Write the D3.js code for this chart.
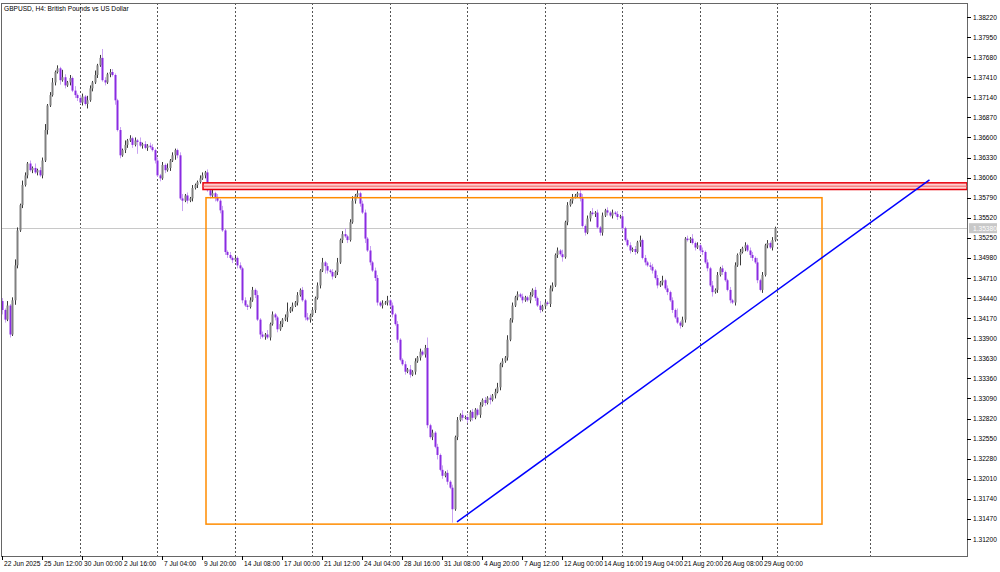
<!DOCTYPE html>
<html>
<head>
<meta charset="utf-8">
<script src="https://cdn.jsdelivr.net/npm/d3@7"></script>
<style>
  body { margin: 0; background: #fff; }
  svg text { font-family: "Liberation Sans", Arial, sans-serif; font-size: 6.6px; fill: #000; }
</style>
</head>
<body>
<svg id="chart" width="1000" height="572"></svg>
<script>
// GBPUSD H4 closes
const closes = [
  1.3428,1.3415,1.3434,1.3395,1.3441,1.3488,1.3535,1.3569,1.3596,1.3609,
  1.3625,1.3616,1.3619,1.3613,1.3616,1.3609,1.3629,1.3670,1.3703,1.3717,
  1.3734,1.3748,1.3753,1.3737,1.3741,1.3730,1.3734,1.3740,1.3723,1.3717,
  1.3713,1.3707,1.3715,1.3705,1.3710,1.3726,1.3734,1.3744,1.3757,1.3767,
  1.3737,1.3734,1.3745,1.3748,1.3744,1.3710,1.3670,1.3636,1.3643,1.3650,
  1.3656,1.3659,1.3650,1.3656,1.3654,1.3649,1.3651,1.3646,1.3649,1.3647,
  1.3643,1.3629,1.3609,1.3605,1.3623,1.3616,1.3619,1.3629,1.3636,1.3643,
  1.3636,1.3578,1.3575,1.3582,1.3575,1.3578,1.3592,1.3596,1.3600,1.3605,
  1.3609,1.3613,1.3589,1.3582,1.3585,1.3580,1.3575,1.3562,1.3535,1.3506,
  1.3502,1.3498,1.3495,1.3498,1.3488,1.3484,1.3441,1.3434,1.3432,1.3441,
  1.3455,1.3448,1.3415,1.3395,1.3392,1.3395,1.3391,1.3409,1.3422,1.3418,
  1.3402,1.3409,1.3415,1.3418,1.3426,1.3430,1.3434,1.3438,1.3448,1.3455,
  1.3441,1.3418,1.3415,1.3421,1.3428,1.3444,1.3461,1.3481,1.3492,1.3487,
  1.3481,1.3479,1.3473,1.3479,1.3492,1.3522,1.3530,1.3527,1.3522,1.3546,
  1.3575,1.3582,1.3585,1.3571,1.3559,1.3524,1.3508,1.3492,1.3481,1.3471,
  1.3438,1.3434,1.3437,1.3438,1.3441,1.3434,1.3422,1.3409,1.3388,1.3361,
  1.3355,1.3345,1.3348,1.3341,1.3345,1.3359,1.3364,1.3372,1.3368,1.3377,
  1.3273,1.3257,1.3263,1.3244,1.3233,1.3213,1.3205,1.3209,1.3197,1.3189,
  1.3160,1.3257,1.3280,1.3287,1.3283,1.3284,1.3280,1.3291,1.3283,1.3294,
  1.3287,1.3300,1.3307,1.3303,1.3310,1.3307,1.3313,1.3318,1.3324,1.3355,
  1.3359,1.3364,1.3388,1.3415,1.3434,1.3445,1.3449,1.3446,1.3441,1.3445,
  1.3441,1.3448,1.3455,1.3444,1.3434,1.3428,1.3433,1.3438,1.3436,1.3457,
  1.3461,1.3502,1.3508,1.3503,1.3499,1.3546,1.3569,1.3575,1.3580,1.3582,
  1.3585,1.3578,1.3541,1.3532,1.3551,1.3559,1.3557,1.3559,1.3539,1.3532,
  1.3555,1.3562,1.3559,1.3555,1.3559,1.3557,1.3553,1.3554,1.3538,1.3522,
  1.3515,1.3508,1.3510,1.3506,1.3519,1.3522,1.3498,1.3492,1.3488,1.3486,
  1.3481,1.3471,1.3461,1.3465,1.3468,1.3457,1.3452,1.3441,1.3428,1.3418,
  1.3411,1.3407,1.3415,1.3524,1.3522,1.3524,1.3518,1.3512,1.3515,1.3508,
  1.3506,1.3492,1.3484,1.3461,1.3452,1.3455,1.3475,1.3484,1.3479,1.3468,
  1.3455,1.3441,1.3438,1.3488,1.3502,1.3506,1.3511,1.3515,1.3508,1.3502,
  1.3498,1.3492,1.3468,1.3455,1.3475,1.3515,1.3518,1.3512,1.3522,1.3538
];
const firstOpen = 1.3440;
// wick lengths per candle, in units of 0.0002
const upperWicks = ("2131242132121312241231215212131221321312621221121312121312122121213121123121211221213121311212121212" +
  "2131213121121261212121312121312121312412312122131221213121211213121212712121312121213121211212121231" +
  "2131212121121213121221213121211231213121212121213112121312122121312121612121312121213121211212121212" +
  "2131212121").split('').map(Number);
const lowerWicks = ("3212132121212121213112131212122121312121121213121221218121211212121213217121212112121312122121212121" +
  "1213121212212131212112121212152121212121121213121221212121211212121212212131212191212121211212131212" +
  "2121212121121212121221213121211212121212212121212112121312122121212121121212121221213121211212171212" +
  "2121212121").split('').map(Number);

const xLabels = ['22 Jun 2025','25 Jun 12:00','30 Jun 00:00','2 Jul 16:00','7 Jul 04:00','9 Jul 20:00',
  '14 Jul 08:00','17 Jul 00:00','21 Jul 12:00','24 Jul 04:00','28 Jul 16:00','31 Jul 08:00',
  '4 Aug 20:00','7 Aug 12:00','12 Aug 00:00','14 Aug 16:00','19 Aug 04:00','21 Aug 20:00',
  '26 Aug 08:00','29 Aug 00:00'];
const labelEvery = 16;
const weekStarts = [31, 62, 93, 124, 155, 186, 217, 248, 279, 310, 347];
const yTicks = d3.range(27).map(k => +(1.3822 - k * 0.0027).toFixed(4));

// drawn objects: [index, price]
const resistance = [80.4, 1.3599, 1.3590];
const rangeBox = [81.6, 328, 1.3579, 1.3140];
const trendLine = [[182, 1.3143], [371, 1.3603]];
const lastPrice = 1.3538;

const svg = d3.select('#chart');
const plotL = 1, plotR = 967, plotT = 3, plotB = 556;

const x = d3.scaleLinear().domain([0, 1]).range([2, 4.5]);
const y = d3.scaleLinear().domain([1.3120, 1.3822]).range([539, 17]);

const candles = closes.map((c, i) => {
  const o = i === 0 ? firstOpen : closes[i - 1];
  return {
    i, o, c,
    h: Math.max(o, c) + (upperWicks[i] || 1) * 0.0002,
    l: Math.min(o, c) - (lowerWicks[i] || 1) * 0.0002
  };
});

// week separators
svg.append('g').selectAll('line').data(weekStarts).enter().append('line')
  .attr('x1', d => Math.round(x(d)) + 0.5).attr('x2', d => Math.round(x(d)) + 0.5)
  .attr('y1', plotT).attr('y2', plotB)
  .attr('stroke', '#555').attr('stroke-dasharray', '2,2');

// last price line
svg.append('line')
  .attr('x1', plotL).attr('x2', plotR)
  .attr('y1', Math.round(y(lastPrice)) + 0.5).attr('y2', Math.round(y(lastPrice)) + 0.5)
  .attr('stroke', '#c8c8c8');

// candles
const g = svg.append('g');
g.selectAll('line.wick').data(candles).enter().append('line')
  .attr('x1', d => Math.round(x(d.i)) + 0.5).attr('x2', d => Math.round(x(d.i)) + 0.5)
  .attr('y1', d => y(d.h)).attr('y2', d => y(d.l))
  .attr('stroke', d => d.c >= d.o ? '#3a3a3a' : '#c9a3f2');
g.selectAll('rect').data(candles).enter().append('rect')
  .attr('x', d => Math.round(x(d.i)) - 0.5)
  .attr('width', 2)
  .attr('y', d => y(Math.max(d.o, d.c)))
  .attr('height', d => Math.max(1, Math.abs(y(d.o) - y(d.c))))
  .attr('fill', d => d.c >= d.o ? '#808080' : '#8a2be2');

// resistance zone
svg.append('rect')
  .attr('x', x(resistance[0])).attr('y', y(resistance[1]))
  .attr('width', plotR - x(resistance[0]))
  .attr('height', y(resistance[2]) - y(resistance[1]))
  .attr('fill', '#ffd0d0').attr('stroke', '#e8000b').attr('stroke-width', 1.5);
svg.append('line')
  .attr('x1', x(resistance[0])).attr('x2', plotR)
  .attr('y1', (y(resistance[1]) + y(resistance[2])) / 2)
  .attr('y2', (y(resistance[1]) + y(resistance[2])) / 2)
  .attr('stroke', '#f06060').attr('stroke-width', 1);

// range box
svg.append('rect')
  .attr('x', x(rangeBox[0])).attr('y', y(rangeBox[2]))
  .attr('width', x(rangeBox[1]) - x(rangeBox[0]))
  .attr('height', y(rangeBox[3]) - y(rangeBox[2]))
  .attr('fill', 'none').attr('stroke', '#ff8c00').attr('stroke-width', 1.5);

// trend line
svg.append('line')
  .attr('x1', x(trendLine[0][0])).attr('y1', y(trendLine[0][1]))
  .attr('x2', x(trendLine[1][0])).attr('y2', y(trendLine[1][1]))
  .attr('stroke', '#0000ff').attr('stroke-width', 1.5);

// frame
svg.append('rect').attr('x', plotL + 0.5).attr('y', plotT + 0.5)
  .attr('width', plotR - plotL).attr('height', plotB - plotT)
  .attr('fill', 'none').attr('stroke', '#666');

// y axis
const ya = svg.append('g');
ya.selectAll('line').data(yTicks).enter().append('line')
  .attr('x1', plotR).attr('x2', plotR + 4)
  .attr('y1', d => Math.round(y(d)) + 0.5).attr('y2', d => Math.round(y(d)) + 0.5)
  .attr('stroke', '#000');
ya.selectAll('text').data(yTicks).enter().append('text')
  .attr('x', plotR + 6).attr('y', d => y(d) + 2.5)
  .text(d => d.toFixed(5));

// last price tag
svg.append('rect').attr('x', plotR + 2).attr('y', y(lastPrice) - 5)
  .attr('width', 28).attr('height', 10).attr('fill', '#c8c8c8');
svg.append('text').attr('x', plotR + 6).attr('y', y(lastPrice) + 2.5)
  .style('fill', '#fff').text(lastPrice.toFixed(5));

// x axis
const xa = svg.append('g');
xa.selectAll('line').data(xLabels).enter().append('line')
  .attr('x1', (d, k) => Math.round(x(k * labelEvery)) + 0.5)
  .attr('x2', (d, k) => Math.round(x(k * labelEvery)) + 0.5)
  .attr('y1', plotB).attr('y2', plotB + 4).attr('stroke', '#000');
xa.selectAll('text').data(xLabels).enter().append('text')
  .attr('x', (d, k) => x(k * labelEvery) + 2).attr('y', 566)
  .text(d => d);

// title
svg.append('text').attr('x', 4).attr('y', 11).text('GBPUSD, H4:  British Pounds vs US Dollar');
</script>
</body>
</html>
